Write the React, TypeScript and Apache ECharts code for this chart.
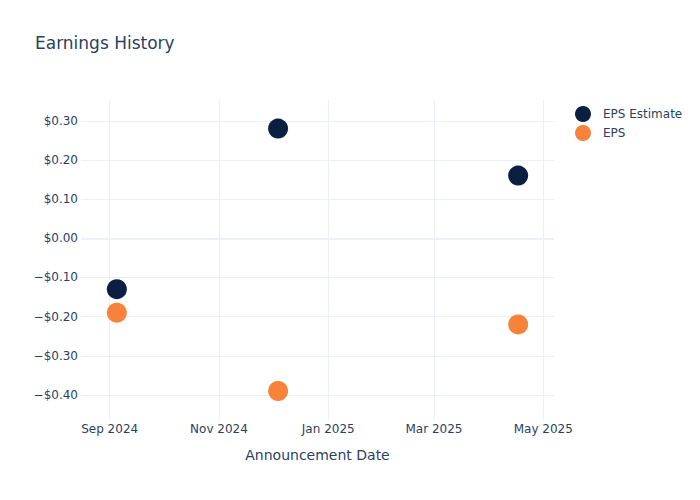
import { useEffect, useRef } from "react";
import * as echarts from "echarts";

const dates = ["2024-09-05", "2024-12-04", "2025-04-17"];
const epsEstimate = [-0.13, 0.28, 0.16];
const epsActual = [-0.19, -0.39, -0.22];
const xTicks = ["2024-09-01", "2024-11-01", "2025-01-01", "2025-03-01", "2025-05-01"];
const yTicks = [-0.4, -0.3, -0.2, -0.1, 0, 0.1, 0.2, 0.3];
const months = ["Jan", "Feb", "Mar", "Apr", "May", "Jun", "Jul", "Aug", "Sep", "Oct", "Nov", "Dec"];

const FONT = "DejaVu Sans";
const TEXT = "#2a3f5f";
const GRID = "#ebf0f8";

const ts = (d: string) => new Date(d + "T00:00:00Z").getTime();

function fmtMoney(v: number) {
  const r = Math.round(v * 100) / 100;
  if (r < 0) return "\u2212$" + Math.abs(r).toFixed(2);
  return "$" + Math.abs(r).toFixed(2);
}

function fmtMonth(v: number) {
  const d = new Date(v);
  return months[d.getUTCMonth()] + " " + d.getUTCFullYear();
}

function App() {
  const chartRef = useRef<HTMLDivElement>(null);

  useEffect(() => {
    const chart = echarts.init(chartRef.current, null, { renderer: "svg" });

    // the page body has an 8px margin, so offsets below are 8px smaller
    const option = {
      animation: false,
      textStyle: { fontFamily: FONT, color: TEXT },
      title: {
        text: "Earnings History",
        left: 27,
        top: 26,
        padding: 0,
        textStyle: { fontFamily: FONT, fontSize: 17, fontWeight: "normal", color: TEXT },
      },
      legend: {
        orient: "vertical",
        left: 567,
        top: 98,
        padding: 0,
        icon: "circle",
        itemWidth: 16,
        itemHeight: 16,
        itemGap: 3,
        textStyle: { fontFamily: FONT, fontSize: 12, color: TEXT, padding: [0, 0, 0, 7] },
        data: ["EPS Estimate", "EPS"],
      },
      grid: { left: 73, right: 154, top: 92, bottom: 88 },
      xAxis: {
        type: "value",
        min: ts("2024-08-16"),
        max: ts("2025-05-07"),
        name: "Announcement Date",
        nameLocation: "middle",
        nameGap: 28,
        nameTextStyle: { fontFamily: FONT, fontSize: 14, color: TEXT },
        axisLine: { show: false },
        axisTick: { show: false, customValues: xTicks.map(ts) },
        axisLabel: {
          customValues: xTicks.map(ts),
          formatter: (v: number) => fmtMonth(v),
          fontFamily: FONT,
          fontSize: 12,
          color: TEXT,
          margin: 3,
          hideOverlap: false,
        },
        splitLine: { show: true, lineStyle: { color: GRID, width: 1 } },
      },
      yAxis: {
        type: "value",
        min: -0.464,
        max: 0.353,
        axisLine: { show: false },
        axisTick: { show: false, customValues: yTicks },
        axisLabel: {
          customValues: yTicks,
          formatter: (v: number) => fmtMoney(v),
          fontFamily: FONT,
          fontSize: 12,
          color: TEXT,
          margin: 3,
        },
        splitLine: { show: true, lineStyle: { color: GRID, width: 1 } },
      },
      series: [
        {
          name: "EPS Estimate",
          type: "scatter",
          symbol: "circle",
          symbolSize: 20,
          itemStyle: { color: "#0b1f42", opacity: 1 },
          data: dates.map((d, i) => [ts(d), epsEstimate[i]]),
          markLine: {
            silent: true,
            symbol: "none",
            label: { show: false },
            lineStyle: { color: GRID, width: 2, type: "solid" },
            data: [{ yAxis: 0 }],
          },
          z: 3,
        },
        {
          name: "EPS",
          type: "scatter",
          symbol: "circle",
          symbolSize: 20,
          itemStyle: { color: "#f7823a", opacity: 1 },
          data: dates.map((d, i) => [ts(d), epsActual[i]]),
          z: 3,
        },
      ],
    };

    chart.setOption(option);

    return () => {
      chart.dispose();
    };
  }, []);

  return <div ref={chartRef} style={{ width: "700px", height: "500px" }} />;
}

export default App;
